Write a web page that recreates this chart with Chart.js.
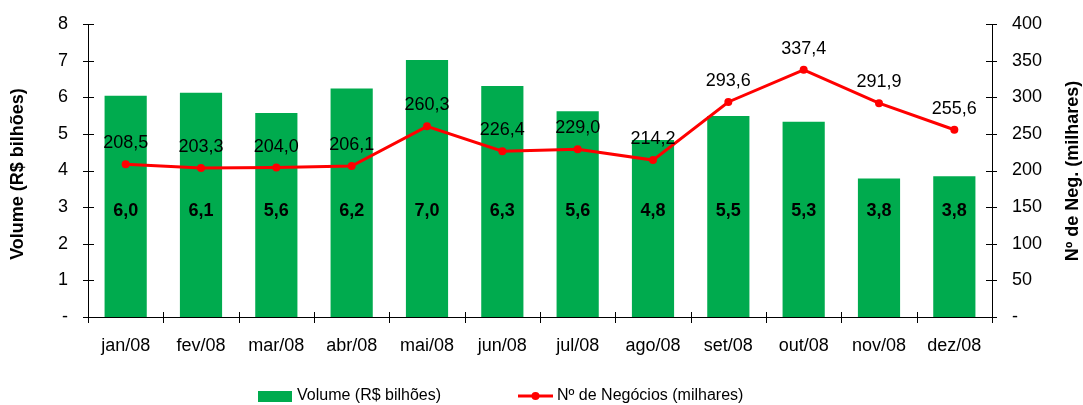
<!DOCTYPE html>
<html>
<head>
<meta charset="utf-8">
<script src="https://cdn.jsdelivr.net/npm/chart.js@4/dist/chart.umd.min.js"></script>
<style>
  html, body { margin: 0; padding: 0; background: #fff; }
  #wrap { width: 1083px; height: 405px; position: relative; }
</style>
</head>
<body>
<div id="wrap"><canvas id="chart" width="1083" height="405"></canvas></div>
<script>
// Monthly data 2008
const months = ['jan/08', 'fev/08', 'mar/08', 'abr/08', 'mai/08', 'jun/08', 'jul/08', 'ago/08', 'set/08', 'out/08', 'nov/08', 'dez/08'];
const volume = [6.04, 6.12, 5.57, 6.24, 7.02, 6.31, 5.62, 4.83, 5.49, 5.33, 3.78, 3.84];
const negocios = [208.5, 203.3, 204.0, 206.1, 260.3, 226.4, 229.0, 214.2, 293.6, 337.4, 291.9, 255.6];
const leftTicks = ['-', '1', '2', '3', '4', '5', '6', '7', '8'];
const rightTicks = ['-', '50', '100', '150', '200', '250', '300', '350', '400'];

const GREEN = '#00AB4E';
const RED = '#FF0000';
const FONT = "'Liberation Sans', Arial, sans-serif";

const fmt = (v, d) => v.toFixed(d).replace('.', ',');

// labels on bars (bold, fixed height) and above line points
const valueLabels = {
  id: 'valueLabels',
  afterDatasetsDraw(chart) {
    const ctx = chart.ctx;
    const yL = chart.scales.y;
    ctx.save();
    ctx.textAlign = 'center';
    ctx.textBaseline = 'middle';
    ctx.fillStyle = '#000';
    ctx.font = 'bold 18px ' + FONT;
    chart.getDatasetMeta(1).data.forEach((bar, i) => {
      ctx.fillText(fmt(volume[i], 1), bar.x, yL.getPixelForValue(2.89));
    });
    ctx.font = '18px ' + FONT;
    chart.getDatasetMeta(0).data.forEach((pt, i) => {
      ctx.fillText(fmt(negocios[i], 1), pt.x, pt.y - 21);
    });
    ctx.restore();
  }
};

// axis ticks that cross the axis lines, axis titles, legend
const extras = {
  id: 'extras',
  afterDraw(chart) {
    const ctx = chart.ctx;
    const { y, y1 } = chart.scales;
    const area = chart.chartArea;
    ctx.save();
    ctx.strokeStyle = '#000';
    ctx.lineWidth = 1;
    ctx.beginPath();
    y.ticks.forEach(t => {
      const py = Math.round(y.getPixelForValue(t.value)) + 0.5;
      ctx.moveTo(area.left - 5, py); ctx.lineTo(area.left + 6, py);
    });
    y1.ticks.forEach(t => {
      const py = Math.round(y1.getPixelForValue(t.value)) + 0.5;
      ctx.moveTo(area.right - 6, py); ctx.lineTo(area.right + 5, py);
    });
    for (let i = 0; i <= months.length; i++) {
      const px = Math.round(area.left + (area.right - area.left) * i / months.length) + 0.5;
      ctx.moveTo(px, area.bottom - 5); ctx.lineTo(px, area.bottom + 6);
    }
    ctx.stroke();

    // axis titles, both read bottom to top
    ctx.fillStyle = '#000';
    ctx.font = 'bold 18px ' + FONT;
    ctx.textAlign = 'center';
    ctx.textBaseline = 'middle';
    [[18, 174, 'Volume (R$ bilhões)'], [1073, 171, 'Nº de Neg. (milhares)']].forEach(([tx, ty, txt]) => {
      ctx.save();
      ctx.translate(tx, ty);
      ctx.rotate(-Math.PI / 2);
      ctx.fillText(txt, 0, 0);
      ctx.restore();
    });

    // legend
    ctx.fillStyle = GREEN;
    ctx.fillRect(258, 391, 34, 11);
    ctx.fillStyle = '#000';
    ctx.font = '16px ' + FONT;
    ctx.textAlign = 'left';
    ctx.fillText('Volume (R$ bilhões)', 297, 396);
    ctx.strokeStyle = RED;
    ctx.lineWidth = 3;
    ctx.beginPath();
    ctx.moveTo(518, 396); ctx.lineTo(553, 396);
    ctx.stroke();
    ctx.fillStyle = RED;
    ctx.beginPath();
    ctx.arc(535.5, 396, 4, 0, Math.PI * 2);
    ctx.fill();
    ctx.fillStyle = '#000';
    ctx.fillText('Nº de Negócios (milhares)', 557, 396);
    ctx.restore();
  }
};

// keep tick-label overflow from pushing the plot area down
const noVPad = s => { s.paddingTop = 0; s.paddingBottom = 0; };

function initializeChart() {
  const ctx = document.getElementById('chart').getContext('2d');
  new Chart(ctx, {
    data: {
      labels: months,
      datasets: [
        {
          type: 'line',
          label: 'Nº de Negócios (milhares)',
          data: negocios,
          yAxisID: 'y1',
          borderColor: RED,
          backgroundColor: RED,
          borderWidth: 3,
          pointRadius: 4,
          pointBackgroundColor: RED,
          pointBorderWidth: 0,
          tension: 0,
          order: 0
        },
        {
          type: 'bar',
          label: 'Volume (R$ bilhões)',
          data: volume,
          yAxisID: 'y',
          backgroundColor: GREEN,
          borderWidth: 0,
          barPercentage: 0.56,
          categoryPercentage: 1,
          order: 1
        }
      ]
    },
    options: {
      responsive: false,
      animation: false,
      layout: { padding: { top: 24, left: 0, right: 0, bottom: 0 } },
      plugins: {
        legend: { display: false },
        tooltip: { enabled: false }
      },
      scales: {
        x: {
          offset: true,
          grid: { display: false, drawTicks: false },
          border: { color: '#000', width: 1 },
          ticks: { color: '#000', font: { family: FONT, size: 18 }, padding: 18, maxRotation: 0 },
          afterFit: s => { s.height = 88; }
        },
        y: {
          position: 'left',
          min: 0, max: 8,
          grid: { display: false, drawTicks: false },
          border: { color: '#000', width: 1 },
          ticks: {
            stepSize: 1, color: '#000', padding: 20,
            font: { family: FONT, size: 18 },
            callback: (v) => leftTicks[v]
          },
          afterFit: s => { s.width = 88; noVPad(s); }
        },
        y1: {
          position: 'right',
          min: 0, max: 400,
          grid: { display: false, drawTicks: false },
          border: { color: '#000', width: 1 },
          ticks: {
            stepSize: 50, color: '#000', padding: 20,
            font: { family: FONT, size: 18 },
            callback: (v) => rightTicks[v / 50]
          },
          afterFit: s => { s.width = 91; noVPad(s); }
        }
      }
    },
    plugins: [valueLabels, extras]
  });
}

document.addEventListener('DOMContentLoaded', initializeChart);
</script>
</body>
</html>
